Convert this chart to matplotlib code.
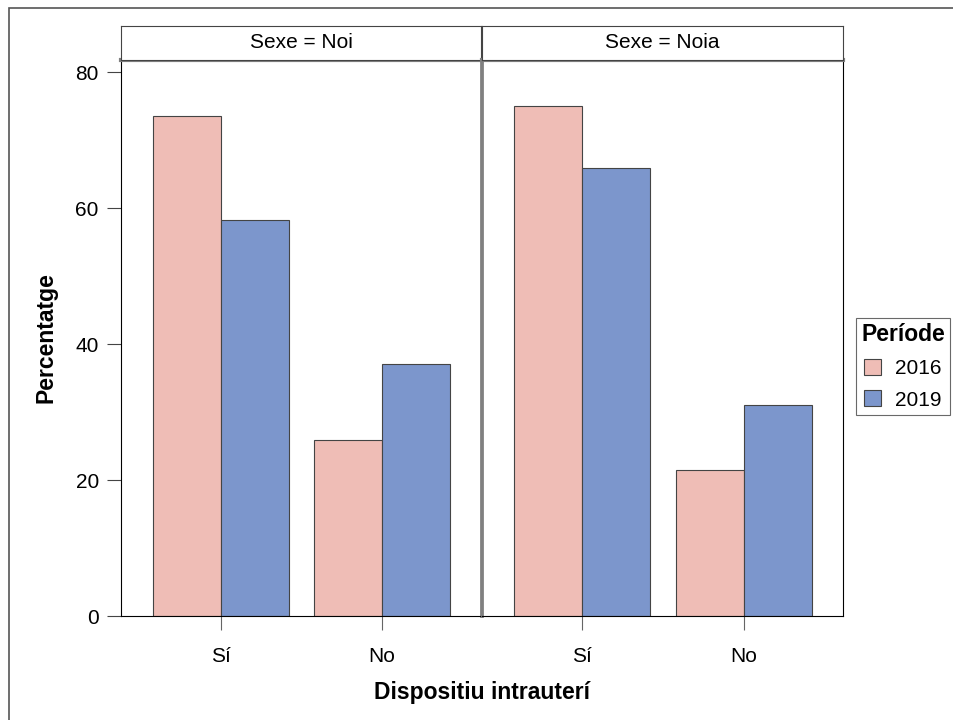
import matplotlib
matplotlib.use("Agg")
import matplotlib.pyplot as plt
from matplotlib.patches import Patch, Rectangle
import numpy as np

plt.rcParams['font.family'] = ['Liberation Sans', 'DejaVu Sans']

categories = ["Sí", "No"]
panels = ["Sexe = Noi", "Sexe = Noia"]
years = ["2016", "2019"]
values = {
    "Sexe = Noi": {"2016": [73.5, 25.9], "2019": [58.2, 37.1]},
    "Sexe = Noia": {"2016": [75.0, 21.5], "2019": [65.9, 31.0]},
}
colors = {"2016": "#EFBDB6", "2019": "#7C96CC"}

W, H = 954, 720
fig = plt.figure(figsize=(W / 100, H / 100), dpi=100)

def px_axes(x0, y0, x1, y1):
    return fig.add_axes([x0 / W, 1 - y1 / H, (x1 - x0) / W, (y1 - y0) / H])

# outer frame
fig.patches.append(Rectangle((9 / W, -0.1), 2, 1 - 8 / H + 0.1, transform=fig.transFigure,
                             fill=False, edgecolor="#555555", lw=1.2))

x = np.arange(len(categories))
bw = 0.42
panel_px = [(121, 481), (482, 843)]
for i, (p, (xl, xr)) in enumerate(zip(panels, panel_px)):
    ax = px_axes(xl, 60, xr, 616)
    for j, yr in enumerate(years):
        off = (j - 0.5) * bw
        ax.bar(x + off, values[p][yr], width=bw, color=colors[yr],
               edgecolor="#444444", linewidth=0.8, zorder=2)
    ax.set_xlim(-0.62, 1.615)
    ax.set_ylim(0, 81.8)
    ax.set_xticks(x)
    ax.set_xticklabels(categories, fontsize=15)
    ax.tick_params(axis="x", length=10, color="#666666", pad=12)
    ax.spines["top"].set_color("#808080")
    ax.spines["top"].set_linewidth(3)
    if i == 0:
        ax.set_yticks([0, 20, 40, 60, 80])
        ax.tick_params(axis="y", length=10, color="#444444", labelsize=15, pad=6)
        ax.spines["right"].set_color("#808080")
        ax.spines["right"].set_linewidth(2)
        ax.set_ylabel("Percentatge", fontsize=16.5, fontweight="bold", labelpad=13)
    else:
        ax.set_yticks([])
        ax.spines["left"].set_color("#808080")
        ax.spines["left"].set_linewidth(2)

    # strip header
    hx = px_axes(xl, 26, xr, 60)
    hx.set_xticks([])
    hx.set_yticks([])
    hx.text(0.5, 0.5, p, ha="center", va="center", fontsize=15, transform=hx.transAxes)
    for s in hx.spines.values():
        s.set_color("#444444")
        s.set_linewidth(0.8)

fig.text(482 / W, 1 - 693 / H, "Dispositiu intrauterí", ha="center", va="center",
         fontsize=16.5, fontweight="bold")

handles = [Patch(facecolor=colors[yr], edgecolor="#444444", linewidth=0.8, label=yr) for yr in years]
leg = fig.legend(handles=handles, title="Període", loc="upper left",
                 bbox_to_anchor=(856 / W, 1 - 318 / H), fontsize=15,
                 title_fontproperties={"weight": "bold", "size": 16.5},
                 frameon=True, fancybox=False, edgecolor="#444444",
                 handlelength=0.8, handleheight=0.8, handletextpad=0.7,
                 borderpad=0.25, labelspacing=0.6, borderaxespad=0)
leg.get_frame().set_linewidth(0.8)

fig.savefig("out.png", dpi=100)
